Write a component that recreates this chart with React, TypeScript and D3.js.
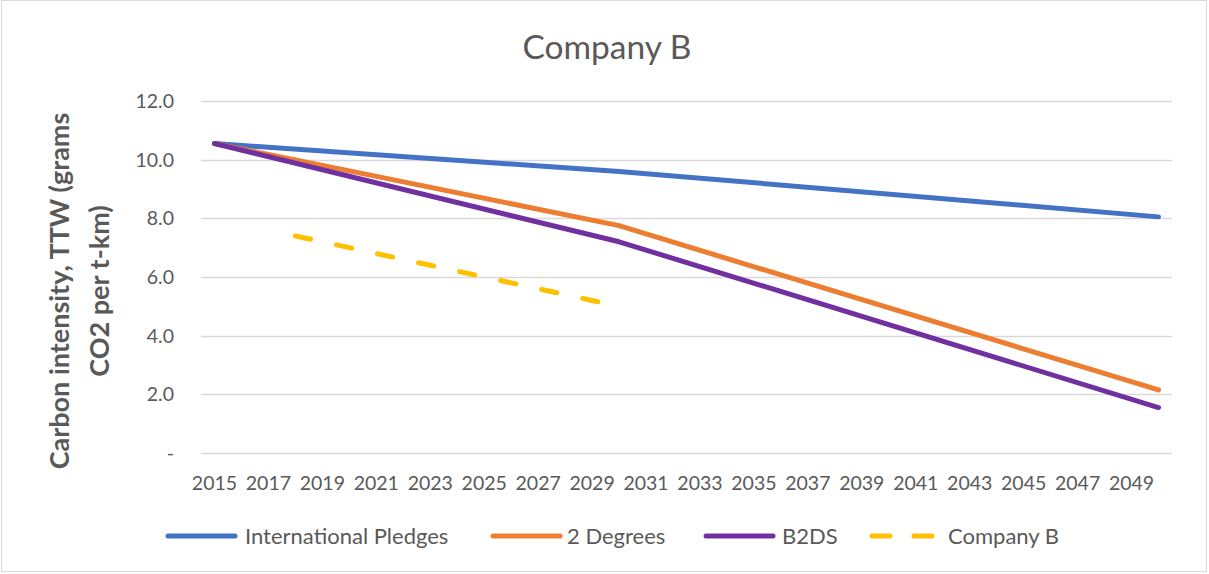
import { useEffect, useRef } from 'react';
import * as d3 from 'd3';

// categories: every year 2015..2050, labelled every other year
const years: number[] = [
  2015, 2016, 2017, 2018, 2019, 2020, 2021, 2022, 2023, 2024, 2025, 2026,
  2027, 2028, 2029, 2030, 2031, 2032, 2033, 2034, 2035, 2036, 2037, 2038,
  2039, 2040, 2041, 2042, 2043, 2044, 2045, 2046, 2047, 2048, 2049, 2050,
];
const yTicks: number[] = [0, 2, 4, 6, 8, 10, 12];

// scenario pathways (vertices)
const pledgesYears = [2015, 2030, 2050];
const pledgesValues = [10.55, 9.6, 8.05];
const twoDegYears = [2015, 2030, 2050];
const twoDegValues = [10.55, 7.75, 2.15];
const b2dsYears = [2015, 2030, 2050];
const b2dsValues = [10.55, 7.2, 1.55];
const companyYears = [2018, 2019, 2020, 2021, 2022, 2023, 2024, 2025, 2026, 2027, 2028, 2029, 2030];
const companyValues = [7.4, 7.2, 7.0, 6.8, 6.6, 6.4, 6.2, 6.0, 5.8, 5.6, 5.4, 5.2, 5.0];

const seriesNames = ['International Pledges', '2 Degrees', 'B2DS', 'Company B'];
const seriesColors = ['#4472C4', '#ED7D31', '#7030A0', '#FFC000'];

const WIDTH = 1209;
const HEIGHT = 574;
const FONT = 'Lato, sans-serif';
const TEXT = '#595959';

export default function App() {
  const svgRef = useRef<SVGSVGElement>(null);

  useEffect(() => {
    if (!svgRef.current) return;
    const svg = d3.select(svgRef.current);
    svg.selectAll('*').remove();

    const plot = { left: 201, right: 1172, top: 101, bottom: 453 };

    svg.append('rect')
      .attr('x', 1.5).attr('y', 0.5)
      .attr('width', WIDTH - 4).attr('height', HEIGHT - 3)
      .attr('fill', '#fff')
      .attr('stroke', '#d9d9d9');

    const x = d3.scaleBand<number>()
      .domain(years)
      .range([plot.left, plot.right])
      .padding(0);
    const xc = (yr: number) => (x(yr) || 0) + x.bandwidth() / 2;

    const y = d3.scaleLinear().domain([0, 12]).range([plot.bottom, plot.top]);

    // gridlines
    svg.append('g')
      .selectAll('line')
      .data(yTicks)
      .join('line')
      .attr('x1', plot.left).attr('x2', plot.right)
      .attr('y1', d => Math.round(y(d)) + 0.5)
      .attr('y2', d => Math.round(y(d)) + 0.5)
      .attr('stroke', '#d9d9d9')
      .attr('stroke-width', 1.5);

    // y tick labels
    svg.append('g')
      .selectAll('text')
      .data(yTicks)
      .join('text')
      .attr('x', 174)
      .attr('y', d => y(d))
      .attr('dy', '0.36em')
      .attr('text-anchor', 'end')
      .style('font-family', FONT)
      .style('font-size', '19.5px')
      .style('fill', TEXT)
      .text(d => (d === 0 ? '-' : d3.format('.1f')(d)));

    // x tick labels
    svg.append('g')
      .selectAll('text')
      .data(years.filter((_, i) => i % 2 === 0))
      .join('text')
      .attr('x', d => xc(d))
      .attr('y', 490)
      .attr('text-anchor', 'middle')
      .style('font-family', FONT)
      .style('font-size', '19.5px')
      .style('fill', TEXT)
      .text(d => String(d));

    // title
    svg.append('text')
      .attr('x', 607)
      .attr('y', 59)
      .attr('text-anchor', 'middle')
      .style('font-family', FONT)
      .style('font-size', '33.5px')
      .style('fill', TEXT)
      .text('Company B');

    // y axis title
    const yTitle = svg.append('text')
      .attr('transform', 'translate(0,291) rotate(-90)')
      .attr('text-anchor', 'middle')
      .style('font-family', FONT)
      .style('font-size', '27px')
      .style('font-weight', '700')
      .style('fill', TEXT);
    yTitle.append('tspan').attr('x', 0).attr('y', 69).text('Carbon intensity, TTW (grams');
    yTitle.append('tspan').attr('x', 0).attr('y', 109).text('CO2 per t-km)');

    const line = d3.line<[number, number]>()
      .x(d => xc(d[0]))
      .y(d => y(d[1]));

    const series: { yrs: number[]; vals: number[]; dashed: boolean }[] = [
      { yrs: pledgesYears, vals: pledgesValues, dashed: false },
      { yrs: twoDegYears, vals: twoDegValues, dashed: false },
      { yrs: b2dsYears, vals: b2dsValues, dashed: false },
      { yrs: companyYears, vals: companyValues, dashed: true },
    ];

    series.forEach((s, i) => {
      svg.append('path')
        .datum(s.yrs.map((yr, j) => [yr, s.vals[j]] as [number, number]))
        .attr('d', line)
        .attr('fill', 'none')
        .attr('stroke', seriesColors[i])
        .attr('stroke-width', 5)
        .attr('stroke-linecap', 'round')
        .attr('stroke-linejoin', 'round')
        .attr('stroke-dasharray', s.dashed ? '15.5 26.5' : null);
    });

    // legend
    const legendX = [168, 493, 706, 872];
    const textX = [245, 567, 782, 948];
    const lg = svg.append('g');
    seriesNames.forEach((name, i) => {
      const g = lg.append('g').attr('transform', 'translate(0,536)');
      g.append('line')
        .attr('x1', legendX[i]).attr('x2', i === 3 ? 933 : legendX[i] + 67)
        .attr('y1', 0).attr('y2', 0)
        .attr('stroke', seriesColors[i])
        .attr('stroke-width', 5)
        .attr('stroke-linecap', 'round')
        .attr('stroke-dasharray', i === 3 ? '18 24' : null);
      g.append('text')
        .attr('x', textX[i])
        .attr('y', 0)
        .attr('dy', '0.36em')
        .style('font-family', FONT)
        .style('font-size', '22px')
        .style('fill', TEXT)
        .text(name);
    });
  }, []);

  return (
    <div style={{ position: 'fixed', left: 0, top: 0 }}>
      <svg ref={svgRef} width={WIDTH} height={HEIGHT} style={{ display: 'block' }} />
    </div>
  );
}
